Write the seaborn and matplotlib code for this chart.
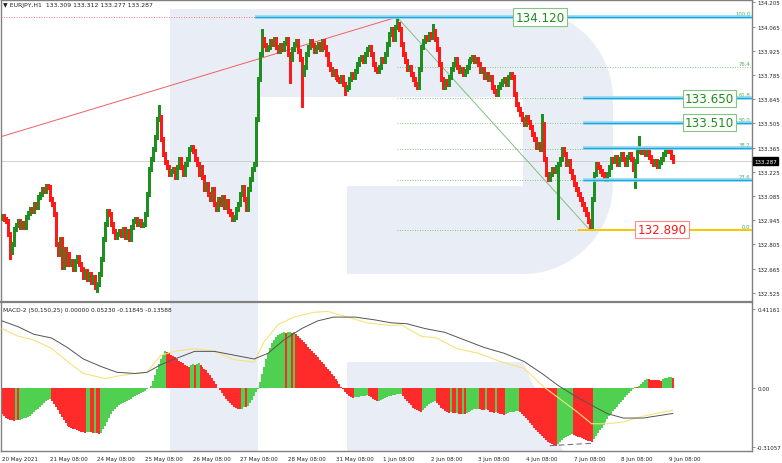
import numpy as np
import pandas as pd
import seaborn as sns
import matplotlib
matplotlib.use("Agg")
import matplotlib.pyplot as plt
from matplotlib.patches import Polygon, Rectangle

# ---------------------------------------------------------------- data
# EURJPY H1 closes, one list per trading week
close_w1 = [  # 20 - 21 May
    132.970, 132.953, 132.941, 132.866, 132.762, 132.808, 132.895, 132.918, 132.941, 132.906, 132.930, 132.906,
    132.964, 132.988, 133.011, 132.999, 133.039, 133.022, 133.080, 133.097, 133.126, 133.115, 133.144, 133.138,
    133.068, 133.039, 132.982, 132.808, 132.750, 132.837, 132.675, 132.779, 132.692, 132.750, 132.692, 132.710,
    132.664, 132.710, 132.733, 132.692, 132.664, 132.617, 132.652, 132.606, 132.634, 132.588, 132.617, 132.560]
close_w2 = [  # 24 - 28 May
    132.577, 132.634, 132.721, 132.837, 132.924, 132.999, 132.982, 132.924, 132.883, 132.849, 132.866, 132.883,
    132.860, 132.895, 132.849, 132.883, 132.837, 132.906, 132.941, 132.953, 132.924, 132.941, 132.918, 132.924,
    132.982, 133.097, 133.242, 133.300, 133.358, 133.427, 133.531, 133.543, 133.416, 133.329, 133.282, 133.253,
    133.213, 133.230, 133.242, 133.196, 133.253, 133.300, 133.253, 133.213, 133.271, 133.300, 133.358, 133.369,
    133.346, 133.300, 133.271, 133.213, 133.253, 133.196, 133.126, 133.155, 133.097, 133.068, 133.126, 133.039,
    133.011, 133.068, 133.039, 133.080, 133.022, 133.057, 132.999, 132.982, 132.953, 132.964, 133.011, 133.039,
    133.097, 133.138, 133.068, 133.011, 133.126, 133.184, 133.242, 133.271, 133.531, 133.763, 133.907, 133.994,
    133.960, 133.936, 133.948, 133.982, 133.965, 133.994, 133.948, 133.924, 133.959, 133.936, 133.971, 133.994,
    133.907, 133.878, 133.936, 133.965, 133.982, 133.924, 133.878, 133.791, 133.832, 133.907, 133.948, 133.982,
    133.959, 133.924, 133.948, 133.965, 133.936, 133.982, 133.948, 133.907, 133.849, 133.820, 133.791, 133.809,
    133.774]
close_w3 = [  # 31 May - 4 Jun
    133.763, 133.751, 133.774, 133.734, 133.705, 133.716, 133.763, 133.791, 133.774, 133.809, 133.849, 133.878,
    133.890, 133.867, 133.907, 133.936, 133.948, 133.907, 133.849, 133.820, 133.809, 133.832, 133.878, 133.867,
    133.907, 133.965, 134.023, 134.052, 133.994, 134.063, 134.081, 134.052, 133.965, 133.907, 133.867, 133.820,
    133.832, 133.791, 133.763, 133.734, 133.716, 133.820, 133.948, 133.982, 134.005, 133.994, 134.023, 134.005,
    134.040, 133.994, 133.936, 133.849, 133.763, 133.716, 133.751, 133.734, 133.774, 133.820, 133.849, 133.878,
    133.832, 133.809, 133.820, 133.791, 133.809, 133.832, 133.867, 133.878, 133.890, 133.867, 133.878, 133.849,
    133.809, 133.820, 133.774, 133.791, 133.763, 133.774, 133.716, 133.693, 133.676, 133.716, 133.734, 133.751,
    133.763, 133.734, 133.774, 133.791, 133.774, 133.676, 133.618, 133.589, 133.560, 133.531, 133.502, 133.543,
    133.515, 133.485, 133.444, 133.416, 133.369, 133.387, 133.358, 133.500, 133.300, 133.213, 133.184, 133.213,
    133.242, 133.230, 133.253, 133.271, 133.300, 133.358, 133.329, 133.271, 133.288, 133.230, 133.196, 133.155,
    133.126]
close_w4 = [  # 7 - 9 Jun
    133.097, 133.068, 133.039, 133.011, 132.982, 132.941, 132.906, 133.068, 133.213, 133.271, 133.253, 133.230,
    133.213, 133.196, 133.184, 133.213, 133.253, 133.300, 133.288, 133.311, 133.271, 133.300, 133.329, 133.300,
    133.271, 133.311, 133.329, 133.300, 133.242, 133.288, 133.346, 133.358, 133.340, 133.358, 133.329, 133.358,
    133.311, 133.288, 133.271, 133.288, 133.259, 133.282, 133.300, 133.329, 133.346, 133.358, 133.346, 133.311,
    133.287]
first_open = 132.960

# long wicks that stand out
spike_hi_i = [79, 131, 199, 217, 272, 321]
spike_hi_p = [133.61, 134.05, 134.12, 134.08, 133.56, 133.43]
spike_lo_i = [4, 48, 145, 151, 173, 280, 296, 319]
spike_lo_p = [132.72, 132.53, 133.74, 133.60, 133.67, 132.95, 132.89, 133.13]

# MACD-2 (50,150,25) histogram, one value per bar
macd_hist = [
    -0.140, -0.150, -0.160, -0.165, -0.170, -0.172, -0.175, -0.170, -0.172, -0.168, -0.165, -0.162, -0.158,
    -0.155, -0.150, -0.140, -0.130, -0.120, -0.110, -0.100, -0.090, -0.080, -0.070, -0.065, -0.060,
    -0.070, -0.085, -0.100, -0.120, -0.140, -0.155, -0.170, -0.185, -0.200,
    -0.205, -0.210, -0.215, -0.220, -0.225, -0.228, -0.232, -0.235, -0.236, -0.234, -0.232, -0.235, -0.238,
    -0.236, -0.240, -0.242, -0.238,
    -0.220, -0.200, -0.180, -0.160, -0.140, -0.125, -0.110, -0.100, -0.090, -0.085, -0.080, -0.075, -0.070,
    -0.065, -0.058, -0.052, -0.046, -0.040, -0.034, -0.028, -0.022, -0.016, -0.010, -0.004,
    0.010, 0.035, 0.065, 0.095, 0.125, 0.150, 0.170, 0.190,
    0.185, 0.180, 0.172, 0.165, 0.158, 0.150, 0.142, 0.135, 0.128, 0.120, 0.115, 0.110,
    0.118, 0.124, 0.120, 0.125, 0.127,
    0.120, 0.110, 0.100, 0.090, 0.078, 0.065, 0.050, 0.035,
    0.018, 0.000, -0.015, -0.030, -0.045, -0.060, -0.072, -0.082, -0.092, -0.100, -0.106, -0.112, -0.115,
    -0.110, -0.100, -0.104, -0.095, -0.080, -0.065, -0.045, -0.025, -0.005,
    0.030, 0.070, 0.110, 0.150, 0.180, 0.210, 0.235, 0.250, 0.265, 0.275, 0.283, 0.288, 0.290,
    0.285, 0.290, 0.292, 0.287, 0.290,
    0.280, 0.270, 0.260, 0.250, 0.240, 0.228, 0.215, 0.200, 0.190, 0.180, 0.170, 0.158, 0.146, 0.134,
    0.122, 0.110, 0.097, 0.085, 0.072, 0.060, 0.046, 0.032, 0.018, 0.005,
    -0.010, -0.025, -0.035, -0.045, -0.050, -0.055, -0.052, -0.050, -0.048, -0.046, -0.045, -0.043, -0.040,
    -0.045, -0.052, -0.060, -0.065, -0.070, -0.068, -0.065, -0.060, -0.055, -0.050, -0.045, -0.042,
    -0.040, -0.038, -0.036, -0.035, -0.034,
    -0.045, -0.058, -0.070, -0.082, -0.094, -0.105, -0.114, -0.120, -0.125, -0.128,
    -0.118, -0.108, -0.098, -0.088, -0.080, -0.074, -0.070,
    -0.080, -0.092, -0.105, -0.115, -0.124, -0.130,
    -0.132, -0.128, -0.133, -0.136, -0.134, -0.138, -0.140, -0.137, -0.140,
    -0.135, -0.130, -0.125, -0.120, -0.115, -0.112, -0.110,
    -0.112, -0.118, -0.120, -0.115, -0.120, -0.126, -0.130, -0.133, -0.128, -0.132, -0.137, -0.140, -0.142,
    -0.138, -0.134, -0.130, -0.128, -0.126, -0.125, -0.124,
    -0.130, -0.140, -0.150, -0.160, -0.172, -0.185, -0.198, -0.210, -0.222, -0.234, -0.245, -0.256,
    -0.266, -0.276, -0.285, -0.292, -0.298, -0.302, -0.305,
    -0.295, -0.285, -0.275, -0.265, -0.258, -0.252, -0.248, -0.245,
    -0.250, -0.254, -0.258, -0.262, -0.266, -0.270, -0.274, -0.278, -0.281, -0.284,
    -0.270, -0.255, -0.240, -0.225, -0.210, -0.195, -0.180, -0.165, -0.150, -0.138, -0.125, -0.112, -0.100,
    -0.088, -0.076, -0.064, -0.052, -0.040, -0.028, -0.016, -0.005,
    0.002, 0.001, 0.010, 0.020, 0.030, 0.038, 0.044,
    0.043, 0.042, 0.041, 0.040, 0.039, 0.038, 0.037,
    0.043, 0.048, 0.052, 0.055, 0.056, 0.0523]

# MACD line (yellow) and signal (dark), sampled along the bars
macd_i = [0, 8, 16, 25, 33, 41, 52, 58, 67, 73, 80, 87, 97, 107, 117, 127, 132, 139, 147, 157, 164, 174,
          184, 196, 201, 211, 219, 229, 240, 251, 263, 273, 283, 290, 297, 305, 313, 323, 338]
macd_v = [0.31, 0.27, 0.25, 0.205, 0.137, 0.074, 0.047, 0.06, 0.074, 0.08, 0.17, 0.19, 0.205, 0.19, 0.146,
          0.134, 0.24, 0.33, 0.37, 0.395, 0.40, 0.37, 0.34, 0.325, 0.33, 0.27, 0.26, 0.205, 0.18, 0.137, 0.10,
          0.003, -0.075, -0.13, -0.19, -0.19, -0.18, -0.15, -0.11845]
sig_i = [0, 8, 16, 25, 33, 41, 50, 58, 67, 73, 80, 87, 97, 107, 117, 127, 134, 142, 151, 159, 167, 178,
         188, 196, 204, 213, 223, 233, 243, 253, 263, 272, 280, 288, 297, 305, 313, 323, 338]
sig_v = [0.35, 0.32, 0.28, 0.26, 0.21, 0.15, 0.11, 0.08, 0.074, 0.08, 0.12, 0.15, 0.19, 0.19, 0.17, 0.15,
         0.18, 0.25, 0.31, 0.35, 0.37, 0.37, 0.355, 0.34, 0.335, 0.31, 0.29, 0.25, 0.21, 0.18, 0.137, 0.074,
         0.012, -0.04, -0.093, -0.137, -0.16, -0.16, -0.13588]
dash_i = [276, 298]
dash_v = [-0.305, -0.292]

# Fibonacci grid from the 1 Jun top to the 7 Jun bottom
fib_top_i, fib_bot_i = 199, 296
fib_pct = [100.0, 76.4, 61.8, 50.0, 38.2, 23.6, 0.0]
blue_levels = [133.650, 133.510, 133.360, 133.180]
top_level = 134.120
bottom_level = 132.890
red_trend_i = [0, 199]
red_trend_p = [133.43, 134.12]

tick_lbl = ["20 May 2021", "21 May 08:00", "24 May 08:00", "25 May 08:00", "26 May 08:00",
            "27 May 08:00", "28 May 08:00", "31 May 08:00", "1 Jun 08:00", "2 Jun 08:00",
            "3 Jun 08:00", "4 Jun 08:00", "7 Jun 08:00", "8 Jun 08:00", "9 Jun 08:00"]
title_txt = "\u25bc EURJPY,H1  133.309 133.312 133.277 133.287"
macd_txt = "MACD-2 (50,150,25) 0.00000 0.05230 -0.11845 -0.13588"

# ---------------------------------------------------------------- frame
closes = np.array(close_w1 + close_w2 + close_w3 + close_w4)
n = len(closes)
assert len(macd_hist) == n, (len(macd_hist), n)
idx = np.arange(n)
opens = np.concatenate([[first_open], closes[:-1]])
highs = np.maximum(opens, closes) + 0.012
lows = np.minimum(opens, closes) - 0.012
highs[spike_hi_i] = spike_hi_p
lows[spike_lo_i] = spike_lo_p
bars = pd.DataFrame({"o": opens, "h": highs, "l": lows, "c": closes, "hist": macd_hist}, index=idx)

sns.set_theme(style="white")
plt.rcParams['font.family'] = ['DejaVu Sans']

W, H = 782, 464
fig = plt.figure(figsize=(W / 100, H / 100), dpi=100)


def px_rect(x0, y0, x1, y1):
    return [x0 / W, 1 - y1 / H, (x1 - x0) / W, (y1 - y0) / H]


# watermark in pixel space
bg = fig.add_axes([0, 0, 1, 1], zorder=0)
bg.set_xlim(0, W)
bg.set_ylim(H, 0)
bg.axis("off")
wm = "#e9edf5"
bg.add_patch(Rectangle((170, 10), 88, 442, color=wm, lw=0))
th1 = np.linspace(np.pi / 2, 0, 20)
th2 = np.linspace(0, -np.pi / 2, 20)
bowl = [(258, 10), (523, 10)]
bowl += list(zip(523 + 90 * np.cos(th1), 100 - 90 * np.sin(th1)))
bowl += list(zip(523 + 90 * np.cos(th2), 185 - 90 * np.sin(th2)))
bowl += [(347, 275), (347, 187), (523, 187), (523, 98), (258, 98)]
bg.add_patch(Polygon(bowl, closed=True, color=wm, lw=0))
bg.add_patch(Polygon([(347, 363), (523, 363), (563, 452), (347, 452)], closed=True, color=wm, lw=0))

ax = fig.add_axes(px_rect(1, 1, 752, 303), zorder=1)
ax2 = fig.add_axes(px_rect(1, 304, 752, 452), zorder=1)
x_lo, x_hi = -0.5, 377.8
for a in (ax, ax2):
    a.patch.set_alpha(0)
    a.set_xlim(x_lo, x_hi)
    for s in a.spines.values():
        s.set_color("#808080")
        s.set_linewidth(1.0)
ax.spines["bottom"].set_linewidth(1.6)
ax2.spines["top"].set_visible(False)
ax.set_ylim(132.472, 134.219)
ax2.set_ylim(-0.333, 0.444)

# ---------------------------------------------------------------- price panel
bull = "#1f8f1f"
bear = "#ff1a1a"
col = np.where(bars["c"] >= bars["o"], bull, bear)

# current price line
ax.axhline(bars["c"].iloc[-1], color="#c8c8c8", lw=0.6, zorder=1)

fib_hi = bars["h"].iloc[fib_top_i]
fib_lo = bars["l"].iloc[fib_bot_i]
for p in fib_pct:
    lv = fib_lo + (fib_hi - fib_lo) * p / 100
    ax.plot([fib_top_i, x_hi], [lv, lv], color="#5cb85c", lw=0.6, ls=(0, (1, 2)), zorder=1)
    ax.text(x_hi - 0.8, lv + 0.006, f"{p:.1f}", color="#4caf50", fontsize=3.8,
            ha="right", va="bottom", zorder=5)

# trend lines
ax.plot(red_trend_i, red_trend_p, color="#f06060", lw=0.7, zorder=2)
ax.plot([fib_top_i, fib_bot_i], [fib_hi, fib_lo], color="#80c080", lw=0.7, zorder=2)

# candles
ax.vlines(idx, bars["l"], bars["h"], colors=col, lw=0.75, zorder=3, antialiased=False)
ax.bar(idx, np.maximum((bars["c"] - bars["o"]).abs(), 0.004), bottom=np.minimum(bars["o"], bars["c"]),
       width=0.75, color=col, edgecolor="none", linewidth=0, zorder=4, antialiased=False)

# support / resistance
ax.plot([x_lo, 127.5], [top_level, top_level], color="#ff5050", lw=0.6, ls=(0, (1, 2)), zorder=2)


def blue_line(x0, lv):
    ax.plot([x0, x_hi], [lv, lv], color="#8cd8f4", lw=2.6, zorder=5, solid_capstyle="butt")
    ax.plot([x0, x_hi], [lv, lv], color="#1ea3dc", lw=0.8, zorder=5, solid_capstyle="butt")


blue_line(127.5, top_level)
for lv in blue_levels:
    blue_line(292.7, lv)
ax.plot([290, x_hi], [bottom_level, bottom_level], color="#f5c800", lw=1.4, zorder=5,
        solid_capstyle="butt")

box_g = dict(boxstyle="square,pad=0.18", fc="white", ec="#80c880", lw=0.8)
box_r = dict(boxstyle="square,pad=0.18", fc="white", ec="#ff8c8c", lw=0.8)
ax.text(271, top_level, f"{top_level:.3f}", fontsize=8.6, color="#1e8c1e", ha="center", va="center",
        bbox=box_g, zorder=6)
for lv in blue_levels[:2]:
    ax.text(356.5, lv, f"{lv:.3f}", fontsize=8.6, color="#1e8c1e", ha="center", va="center",
            bbox=box_g, zorder=6)
ax.text(332.5, bottom_level, f"{bottom_level:.3f}", fontsize=8.6, color="#ff1a1a", ha="center",
        va="center", bbox=box_r, zorder=6)

# right axis
yt = [132.525 + 0.14 * k for k in range(13)]
ax.yaxis.tick_right()
ax.set_yticks(yt, labels=[f"{v:.3f}" for v in yt])
ax.set_xticks([])
ax.tick_params(axis="y", direction="out", length=2.5, width=0.6, color="#808080",
               labelsize=4.0, pad=1.2, labelcolor="#222222")
ax.text(1.003, bars["c"].iloc[-1], f"{bars['c'].iloc[-1]:.3f}", transform=ax.get_yaxis_transform(),
        fontsize=4.0, color="white", ha="left", va="center", zorder=7,
        bbox=dict(boxstyle="square,pad=0.25", fc="black", ec="black"))

# ---------------------------------------------------------------- MACD panel
rising = bars["hist"].diff() > 0
hcol = np.where(rising, "#50d050", "#ff2a2a")
ax2.vlines(idx, 0, bars["hist"], colors=hcol, lw=1.1, zorder=2, antialiased=False)
sns.lineplot(x=macd_i, y=macd_v, ax=ax2, color="#f8e27a", lw=0.8, zorder=3)
sns.lineplot(x=sig_i, y=sig_v, ax=ax2, color="#555555", lw=0.7, zorder=3)
ax2.plot(dash_i, dash_v, color="#777777", lw=0.8, ls=(0, (5, 3)), zorder=3)

ax2.yaxis.tick_right()
ax2.set_yticks([0.41161, 0.0, -0.31057], labels=["0.41161", "0.00", "-0.31057"])
ax2.set_xticks(np.arange(0, n, 24)[:len(tick_lbl)], labels=tick_lbl, ha="left")
ax2.set_xlabel("")
ax2.set_ylabel("")
ax2.tick_params(axis="both", direction="out", length=2.5, width=0.6, color="#808080",
                labelsize=4.0, pad=1.2, labelcolor="#222222")

fig.text(3 / W, 1 - 6 / H, title_txt, fontsize=4.4, color="#222222", ha="left", va="center")
fig.text(3 / W, 1 - 311 / H, macd_txt, fontsize=4.2, color="#222222", ha="left", va="center")

fig.savefig("out.png", dpi=100)
